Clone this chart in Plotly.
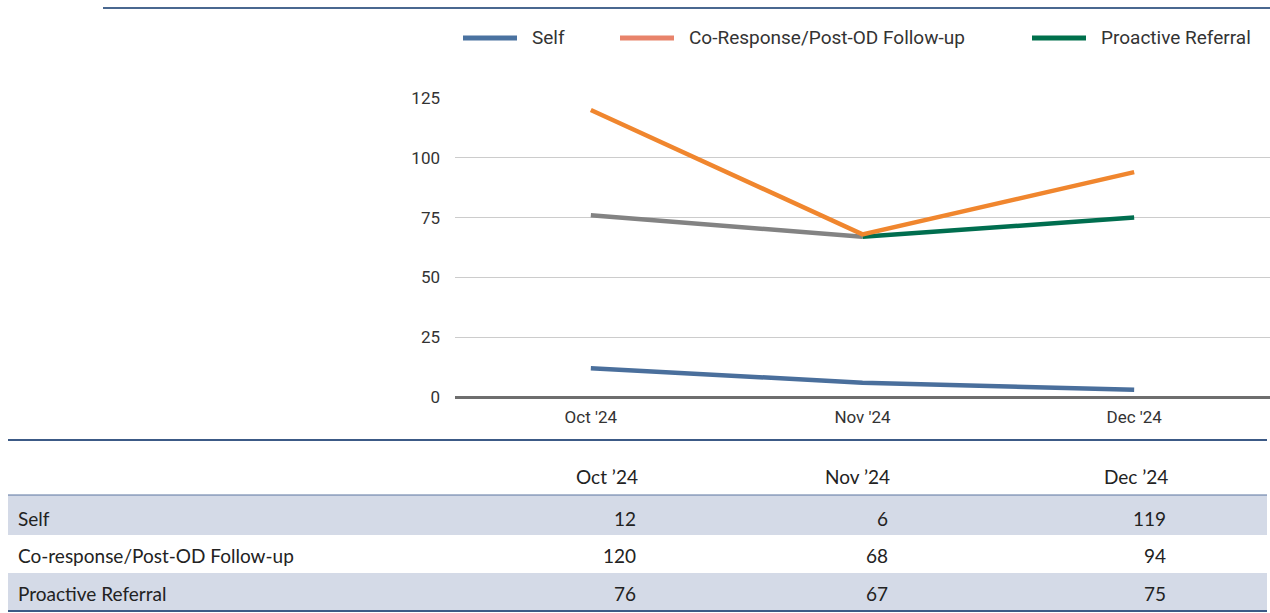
import plotly.graph_objects as go

months = ["Oct '24", "Nov '24", "Dec '24"]
table_months = ["Oct ’24", "Nov ’24", "Dec ’24"]
self_line = [12, 6, 3]
coresp_line = [120, 68, 94]
proactive_line = [76, 67, 75]

table_rows = ["Self", "Co-response/Post-OD Follow-up", "Proactive Referral"]
table_self = [12, 6, 119]
table_coresp = [120, 68, 94]
table_proactive = [76, 67, 75]

legend_names = ["Self", "Co-Response/Post-OD Follow-up", "Proactive Referral"]
legend_colors = ["#4a72a0", "#e8836b", "#00704c"]

W, H = 1270, 613
def py(pix):
    return 1 - pix / H
def px(pix):
    return pix / W

fig = go.Figure()

# lines
fig.add_trace(go.Scatter(x=months, y=self_line, mode="lines",
                         line=dict(color="#4a6f9c", width=4.5), showlegend=False))
fig.add_trace(go.Scatter(x=months[:2], y=proactive_line[:2], mode="lines",
                         line=dict(color="#838383", width=4.5), showlegend=False))
fig.add_trace(go.Scatter(x=months[1:], y=proactive_line[1:], mode="lines",
                         line=dict(color="#006e4f", width=4.5), showlegend=False))
fig.add_trace(go.Scatter(x=months, y=coresp_line, mode="lines",
                         line=dict(color="#f0862e", width=4.5), showlegend=False))

fig.update_layout(
    width=W, height=H,
    margin=dict(l=0, r=0, t=0, b=0, pad=0, autoexpand=False),
    paper_bgcolor="white", plot_bgcolor="white",
    showlegend=False,
    font=dict(family="Liberation Sans Narrow, Roboto, sans-serif", color="#333333"),
    xaxis=dict(domain=[px(455), 1], range=[-0.5, 2.5], showgrid=False, automargin=False,
               tickfont=dict(size=17, family="Liberation Sans Narrow, Roboto", color="#333333"),
               ticks="", showline=False, zeroline=False, ticklabelstandoff=8),
    yaxis=dict(domain=[py(397), py(98)], range=[0, 125], tickvals=[0, 25, 50, 75, 100, 125],
               gridcolor="#cccccc", gridwidth=1, zeroline=True, zerolinecolor="#6e6e6e",
               zerolinewidth=3, ticks="", ticklabelstandoff=14, automargin=False,
               tickfont=dict(size=17, family="Roboto, sans-serif", color="#333333")),
)

shapes = []
ann = []
# top rule
shapes.append(dict(type="line", xref="paper", yref="paper", x0=px(103), x1=1,
                   y0=py(8), y1=py(8), line=dict(color="#4a6890", width=2)))

# legend drawn by hand
leg_x = [463, 620, 1032]
for name, c, lx in zip(legend_names, legend_colors, leg_x):
    shapes.append(dict(type="line", xref="paper", yref="paper", x0=px(lx), x1=px(lx + 54),
                       y0=py(38), y1=py(38), line=dict(color=c, width=5)))
    ann.append(dict(text=name, x=px(lx + 67), y=py(38), xref="paper", yref="paper",
                    xanchor="left", yanchor="middle", showarrow=False,
                    font=dict(size=19, family="Liberation Sans Narrow, Roboto", color="#333333")))

# table rules and shading
shapes.append(dict(type="line", xref="paper", yref="paper", x0=px(8), x1=px(1267),
                   y0=py(440), y1=py(440), line=dict(color="#3c5a86", width=2)))
for top, bot in [(495, 535), (573, 610)]:
    shapes.append(dict(type="rect", xref="paper", yref="paper", x0=px(8), x1=px(1267),
                       y0=py(bot), y1=py(top), fillcolor="#d4dae7", line=dict(width=0),
                       layer="below"))
shapes.append(dict(type="line", xref="paper", yref="paper", x0=px(8), x1=px(1267),
                   y0=py(495), y1=py(495), line=dict(color="#5a74a0", width=1.2)))
shapes.append(dict(type="line", xref="paper", yref="paper", x0=px(8), x1=px(1267),
                   y0=py(611), y1=py(611), line=dict(color="#3c5a86", width=2)))
fig.update_layout(shapes=shapes)

tfont = dict(family="Lato, sans-serif", size=19, color="#222222")
col_right = [640, 892, 1170]
for m, xr in zip(table_months, col_right):
    ann.append(dict(text=m, x=px(xr), y=py(476), xref="paper", yref="paper",
                    xanchor="right", yanchor="middle", showarrow=False, font=tfont))
row_y = [518, 555, 593]
for label, vals, yy in zip(table_rows, [table_self, table_coresp, table_proactive], row_y):
    ann.append(dict(text=label, x=px(16), y=py(yy), xref="paper", yref="paper",
                    xanchor="left", yanchor="middle", showarrow=False, font=tfont))
    for v, xr in zip(vals, col_right):
        ann.append(dict(text=str(v), x=px(xr - 2), y=py(yy), xref="paper", yref="paper",
                        xanchor="right", yanchor="middle", showarrow=False, font=tfont))
fig.update_layout(annotations=ann)

pin = ("document.documentElement.style.margin='0';document.body.style.margin='0';"
       "document.body.style.overflow='hidden';"
       "var d=document.getElementsByClassName('plotly-graph-div')[0];"
       "d.style.position='fixed';d.style.top='0px';d.style.left='0px';")
fig.write_html("out.html", config={"displayModeBar": False}, post_script=pin)
